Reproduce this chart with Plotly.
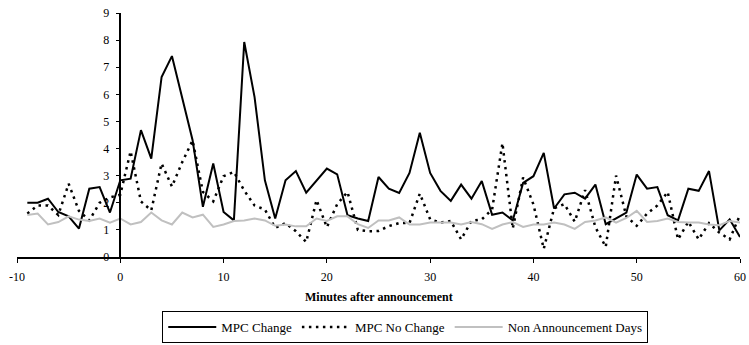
import plotly.graph_objects as go

minutes = list(range(-9, 61))

mpc_change = [
    2.0, 2.0, 2.15, 1.66, 1.5, 1.05, 2.52, 2.58, 1.64,
    2.83, 2.89, 4.68, 3.63, 6.64, 7.41, 5.84, 4.31, 1.85, 3.45,
    1.66, 1.35, 7.93, 5.9, 2.83, 1.42, 2.83, 3.17, 2.37, 2.83,
    3.26, 3.05, 1.54, 1.42, 1.33, 2.95, 2.52, 2.36, 3.1, 4.58,
    3.1, 2.44, 2.07, 2.67, 2.15, 2.8, 1.56, 1.64, 1.35, 2.73,
    2.98, 3.84, 1.79, 2.31, 2.37, 2.15, 2.67, 1.21, 1.42, 1.64,
    3.04, 2.52, 2.58, 1.54, 1.35, 2.52, 2.44, 3.17, 0.98, 1.39,
    0.74,
]

mpc_no_change = [
    1.6, 1.9, 1.9, 1.55, 2.7, 1.7, 1.35, 2.0, 2.2,
    2.3, 3.9, 2.05, 1.72, 3.45, 2.6, 3.5, 4.3, 2.4, 2.05,
    2.98, 3.14, 2.45, 1.9, 1.75, 1.08, 1.25, 0.95, 0.55, 2.1,
    1.1, 1.95, 2.4, 1.0, 0.95, 0.96, 1.14, 1.25, 1.25, 2.34,
    1.39, 1.27, 1.33, 0.65, 1.33, 1.39, 1.75, 4.2, 1.05, 2.93,
    1.94, 0.3, 1.8, 1.95, 1.3, 2.47, 1.1, 0.37, 3.0, 1.5,
    1.15, 1.6, 1.9, 2.4, 0.65, 1.3, 0.65, 1.25, 0.9, 0.65,
    1.55,
]

non_announcement = [
    1.55, 1.6, 1.2, 1.29, 1.5, 1.38, 1.33, 1.42, 1.27,
    1.42, 1.2, 1.29, 1.64, 1.35, 1.2, 1.64, 1.46, 1.56, 1.11,
    1.2, 1.33, 1.35, 1.42, 1.35, 1.15, 1.2, 1.13, 1.13, 1.42,
    1.33, 1.5, 1.5, 1.21, 1.07, 1.35, 1.35, 1.46, 1.2, 1.2,
    1.27, 1.27, 1.27, 1.2, 1.29, 1.21, 1.04, 1.2, 1.29, 1.11,
    1.2, 1.2, 1.27, 1.2, 1.04, 1.29, 1.35, 1.46, 1.27, 1.44,
    1.7, 1.29, 1.33, 1.42, 1.29, 1.27, 1.27, 1.2, 1.17, 1.33,
    1.27,
]

x_ticks = [-10, 0, 10, 20, 30, 40, 50, 60]
y_ticks = [0, 1, 2, 3, 4, 5, 6, 7, 8, 9]
x_title = "Minutes after announcement"

FONT = "Liberation Serif, Times New Roman, serif"

fig = go.Figure()
fig.add_trace(go.Scatter(x=minutes, y=mpc_change, mode="lines", name="MPC Change",
                         line=dict(color="black", width=2)))
fig.add_trace(go.Scatter(x=minutes, y=mpc_no_change, mode="lines", name="MPC No Change",
                         line=dict(color="black", width=2.5, dash="2.5px,4.5px")))
fig.add_trace(go.Scatter(x=minutes, y=non_announcement, mode="lines", name="Non Announcement Days",
                         line=dict(color="#c0c0c0", width=2)))

fig.update_layout(
    width=749, height=345,
    margin=dict(l=17, r=9, t=13, b=88),
    paper_bgcolor="white", plot_bgcolor="white",
    font=dict(family=FONT, size=12, color="black"),
    showlegend=True,
    legend=dict(orientation="h", x=0.537, xanchor="center",
                yref="container", y=0.006, yanchor="bottom",
                bordercolor="black", borderwidth=1, font=dict(family=FONT, size=13),
                itemwidth=48, tracegroupgap=0),
    xaxis=dict(range=[-10, 60], tickvals=x_ticks, ticktext=[str(v) for v in x_ticks],
               showgrid=False, zeroline=False, showline=True, linecolor="black", linewidth=1.5,
               ticks="outside", ticklen=4, tickcolor="black", ticklabelstandoff=4,
               ticklabeloverflow="allow",
               automargin=False, tickfont=dict(family=FONT, size=12)),
    yaxis=dict(range=[0, 9], tickvals=y_ticks, ticktext=[str(v) for v in y_ticks],
               showgrid=False, zeroline=False, showline=True, linecolor="black", linewidth=1.5,
               ticks="outside", ticklen=4, tickcolor="black", ticklabelstandoff=4,
               ticklabeloverflow="allow",
               automargin=False, tickfont=dict(family=FONT, size=12),
               anchor="free", position=1/7),
    annotations=[dict(text="<b>" + x_title + "</b>", xref="paper", yref="paper",
                      x=0.5, y=-0.165, xanchor="center", yanchor="middle",
                      showarrow=False, font=dict(family=FONT, size=12))],
)

# remove the browser's default 8px page margin so the figure fills the window exactly
fig.write_html("out.html", config={"displayModeBar": False},
               post_script="document.body.style.margin='0px';")
